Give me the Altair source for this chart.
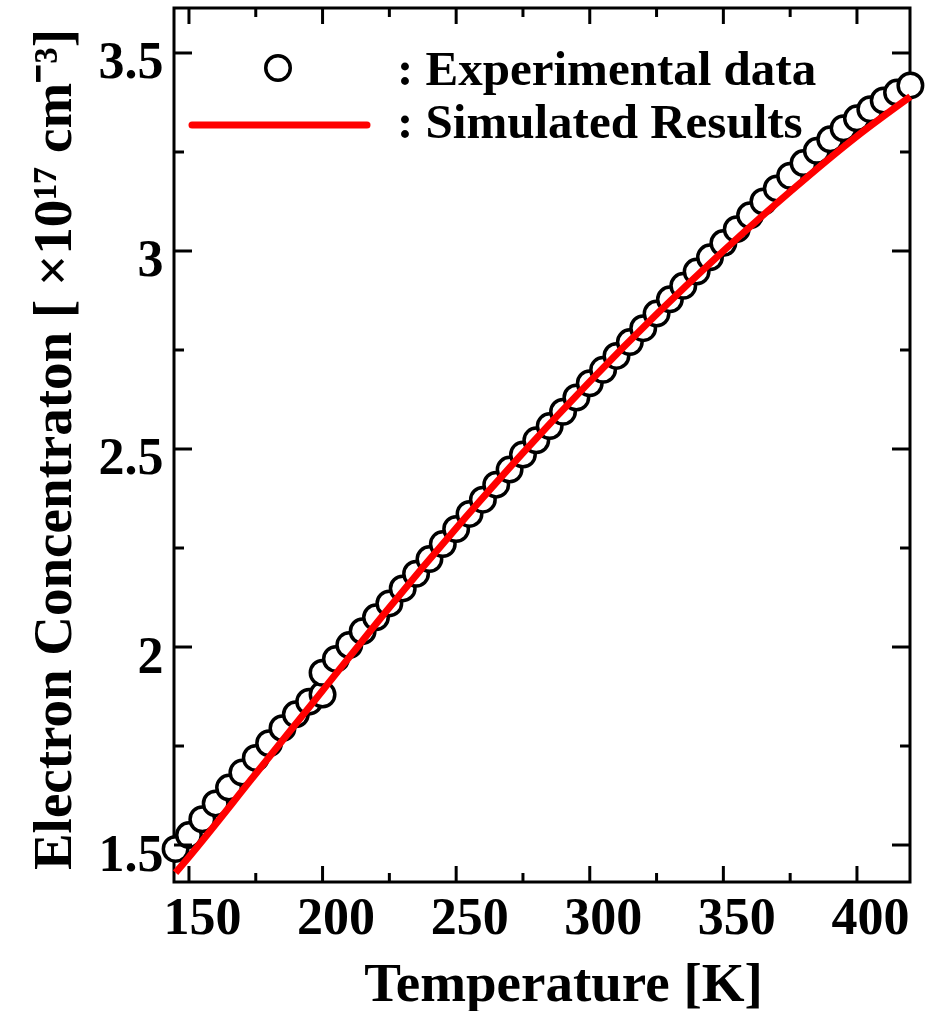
import altair as alt
import pandas as pd

# Experimental data (circles)
exp_T = [145, 150, 155, 160, 165, 170, 175, 180, 185, 190, 195, 200, 200,
         205, 210, 215, 220, 225, 230, 235, 240, 245, 250, 255, 260, 265,
         270, 275, 280, 285, 290, 295, 300, 305, 310, 315, 320, 325, 330,
         335, 340, 345, 350, 355, 360, 365, 370, 375, 380, 385, 390, 395,
         400, 405, 410, 415, 420]
exp_n = [1.49, 1.525, 1.565, 1.605, 1.645, 1.683, 1.72, 1.757, 1.795, 1.83,
         1.862, 1.88, 1.935, 1.97, 2.005, 2.04, 2.075, 2.11, 2.148, 2.185,
         2.222, 2.26, 2.298, 2.336, 2.372, 2.41, 2.448, 2.486, 2.522, 2.558,
         2.594, 2.63, 2.666, 2.70, 2.735, 2.77, 2.805, 2.842, 2.878, 2.912,
         2.948, 2.984, 3.02, 3.055, 3.09, 3.125, 3.158, 3.19, 3.222, 3.253,
         3.282, 3.31, 3.335, 3.358, 3.38, 3.40, 3.418]

# Simulated results (red line)
sim_T = [145, 150, 175, 200, 225, 250, 275, 300, 325, 350, 375, 400, 420]
sim_n = [1.43, 1.47, 1.68, 1.89, 2.10, 2.30, 2.49, 2.67, 2.84, 3.00, 3.15, 3.29, 3.39]

x_major = [150, 200, 250, 300, 350, 400]
x_minor = [175, 225, 275, 325, 375]
y_major = [1.5, 2, 2.5, 3, 3.5]
y_minor = [1.75, 2.25, 2.75, 3.25]

legend_labels = [": Experimental data", ": Simulated Results"]

W, H = 736, 874
FONT = "Liberation Serif"

exp_df = pd.DataFrame({"T": exp_T, "n": exp_n, "order": list(range(len(exp_T)))})
sim_df = pd.DataFrame({"T": sim_T, "n": sim_n})

xs = alt.Scale(domain=[144.4, 419.85], nice=False, zero=False)
ys = alt.Scale(domain=[1.4066, 3.6136], nice=False, zero=False)

x_axis = alt.Axis(values=x_major, ticks=False, tickSize=0, domain=False, grid=False,
                  labelFont=FONT, labelFontWeight="bold", labelFontSize=52,
                  labelColor="black", labelPadding=10, labelOffset=13,
                  title="Temperature [K]", titleFont=FONT, titleFontWeight="bold",
                  titleFontSize=55, titleColor="black", titleX=389, titleY=118,
                  titleBaseline="alphabetic", titleAlign="center")
y_axis = alt.Axis(values=y_major, ticks=False, tickSize=0, domain=False, grid=False,
                  labelFont=FONT, labelFontWeight="bold", labelFontSize=52,
                  labelColor="black", labelPadding=11, labelOffset=9,
                  labelExpr="datum.value == 1.5 ? '1.5' : datum.value == 2.5 ? '2.5' : datum.value == 3.5 ? '3.5' : format(datum.value, 'd')",
                  title="Electron Concentraton [ ×10¹⁷ cm⁻³]", titleFont=FONT,
                  titleFontWeight="bold", titleFontSize=55, titleColor="black",
                  titleAngle=270, titleX=-104, titleY=441, titleBaseline="alphabetic",
                  titleAlign="center")

CIRCLE_SIZE = 600

points = alt.Chart(exp_df).mark_point(shape="circle", filled=False, fill="white",
                                      fillOpacity=1, stroke="black", strokeWidth=3.5,
                                      size=CIRCLE_SIZE, opacity=1).encode(
    x=alt.X("T:Q", scale=xs, axis=x_axis),
    y=alt.Y("n:Q", scale=ys, axis=y_axis),
    order="order:Q",
)

line = alt.Chart(sim_df).mark_line(color="#ff0000", strokeWidth=7,
                                   interpolate="monotone").encode(
    x=alt.X("T:Q", scale=xs),
    y=alt.Y("n:Q", scale=ys),
)

xmaj_df = pd.DataFrame({"v": x_major})
xmin_df = pd.DataFrame({"v": x_minor})
ymaj_df = pd.DataFrame({"v": y_major})
ymin_df = pd.DataFrame({"v": y_minor})

def xticks(df, length):
    bot = alt.Chart(df).mark_rule(color="black", strokeWidth=3).encode(
        x=alt.X("v:Q", scale=xs), y=alt.value(H), y2=alt.value(H - length))
    top = alt.Chart(df).mark_rule(color="black", strokeWidth=3).encode(
        x=alt.X("v:Q", scale=xs), y=alt.value(0), y2=alt.value(length))
    return [bot, top]

def yticks(df, length):
    left = alt.Chart(df).mark_rule(color="black", strokeWidth=3).encode(
        y=alt.Y("v:Q", scale=ys), x=alt.value(0), x2=alt.value(length))
    right = alt.Chart(df).mark_rule(color="black", strokeWidth=3).encode(
        y=alt.Y("v:Q", scale=ys), x=alt.value(W), x2=alt.value(W - length))
    return [left, right]

ticks = xticks(xmaj_df, 16) + xticks(xmin_df, 9) + yticks(ymaj_df, 18) + yticks(ymin_df, 10)

leg_df = pd.DataFrame({"label": legend_labels, "row": [0, 1]})
leg_circle = alt.Chart(leg_df).transform_filter("datum.row == 0").mark_point(
    shape="circle", filled=False, stroke="black", strokeWidth=3.5, size=CIRCLE_SIZE, opacity=1
).encode(x=alt.value(104), y=alt.value(60))
leg_line = alt.Chart(leg_df).transform_filter("datum.row == 1").mark_rule(
    color="#ff0000", strokeWidth=7, strokeCap="round"
).encode(x=alt.value(18), x2=alt.value(193), y=alt.value(117))
leg_text1 = alt.Chart(leg_df).transform_filter("datum.row == 0").mark_text(
    font=FONT, fontWeight="bold", fontSize=49, align="left", baseline="alphabetic",
    color="black"
).encode(x=alt.value(223), y=alt.value(77), text="label:N")
leg_text2 = alt.Chart(leg_df).transform_filter("datum.row == 1").mark_text(
    font=FONT, fontWeight="bold", fontSize=49, align="left", baseline="alphabetic",
    color="black"
).encode(x=alt.value(223), y=alt.value(130), text="label:N")

chart = alt.layer(points, line, *ticks, leg_circle, leg_line, leg_text1, leg_text2).properties(
    width=W, height=H,
    background="white",
    padding={"left": 174, "top": 8, "right": 15, "bottom": 129},
    autosize=alt.AutoSizeParams(type="none"),
).configure_view(stroke="black", strokeWidth=3)

chart.save("out.html", embed_options={"renderer": "svg", "actions": False})
